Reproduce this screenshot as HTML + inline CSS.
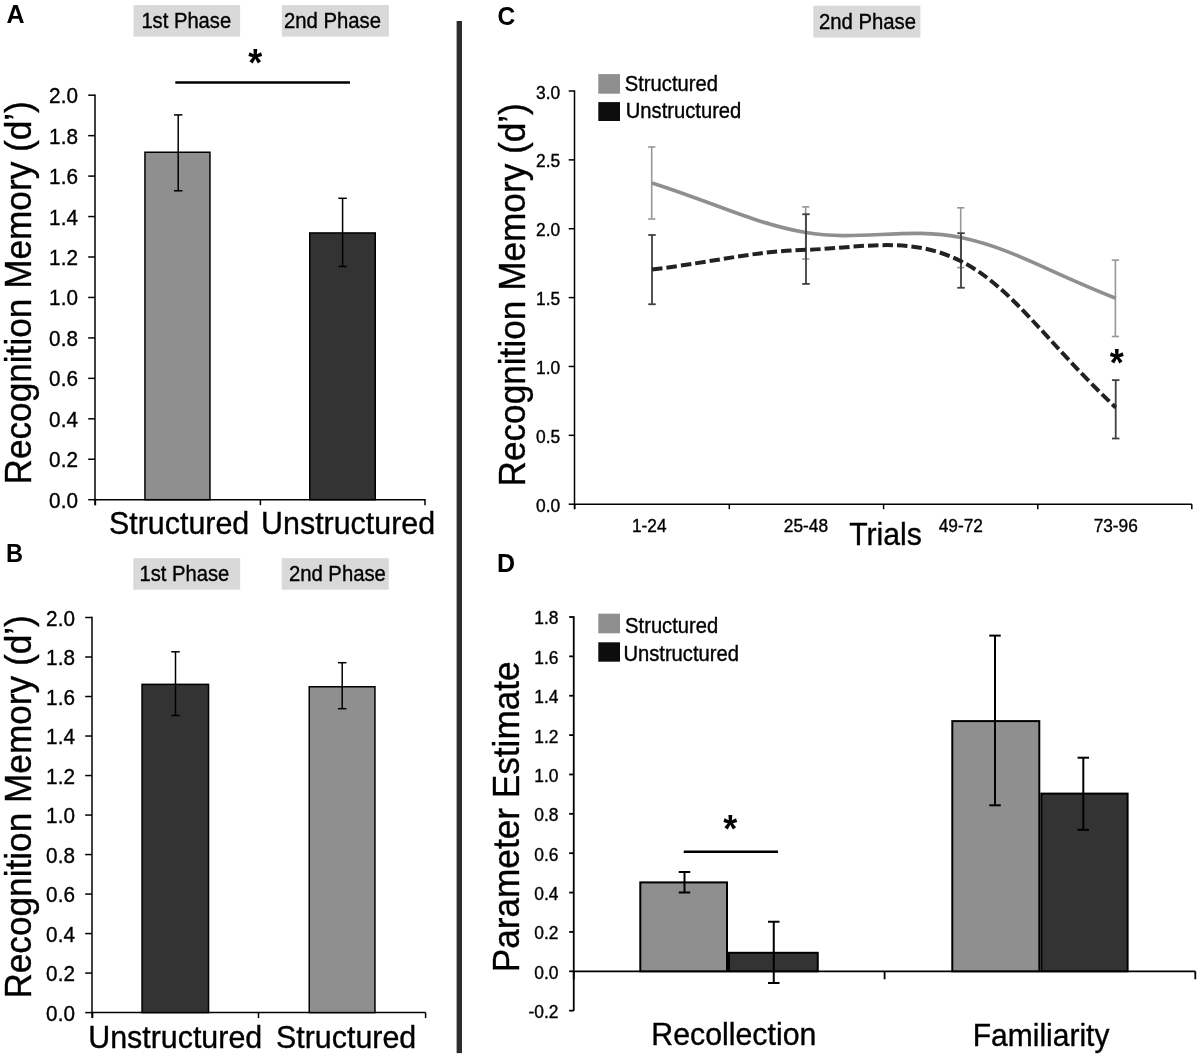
<!DOCTYPE html>
<html><head><meta charset="utf-8"><style>
html,body{margin:0;padding:0;background:#fff;}
svg{display:block;font-family:"Liberation Sans", sans-serif;will-change:transform;}
</style></head><body>
<svg width="1200" height="1059" viewBox="0 0 1200 1059">
<rect x="0" y="0" width="1200" height="1059" fill="#fff"/>
<text x="0" y="0" transform="translate(6.40,22.60) scale(1,1.06)" font-size="25" text-anchor="start" font-weight="bold" fill="#000" stroke="#000" stroke-width="0" >A</text>
<rect x="133.50" y="5.10" width="106.60" height="31.50" fill="#d9d9d9"/>
<text x="0" y="0" transform="translate(141.39,28.00) scale(1,1.06)" font-size="20.2" text-anchor="start" font-weight="normal" fill="#000" stroke="#000" stroke-width="0.35" >1st Phase</text>
<rect x="281.90" y="5.10" width="107.00" height="31.50" fill="#d9d9d9"/>
<text x="0" y="0" transform="translate(283.99,28.00) scale(1,1.06)" font-size="20.3" text-anchor="start" font-weight="normal" fill="#000" stroke="#000" stroke-width="0.35" >2nd Phase</text>
<text x="0" y="0" transform="translate(255.20,76.30) scale(1,1.06)" font-size="36" text-anchor="middle" font-weight="bold" fill="#000" stroke="#000" stroke-width="0" >*</text>
<line x1="175.30" y1="82.40" x2="350.00" y2="82.40" stroke="#000" stroke-width="2.5" />
<line x1="95.00" y1="94.50" x2="95.00" y2="505.20" stroke="#000" stroke-width="1.5" />
<line x1="95.00" y1="499.70" x2="425.60" y2="499.70" stroke="#000" stroke-width="1.5" />
<line x1="88.20" y1="499.70" x2="95.00" y2="499.70" stroke="#000" stroke-width="1.5" />
<text x="0" y="0" transform="translate(77.90,507.70) scale(1,1.06)" font-size="20.7" text-anchor="end" font-weight="normal" fill="#000" stroke="#000" stroke-width="0.35" >0.0</text>
<line x1="88.20" y1="459.25" x2="95.00" y2="459.25" stroke="#000" stroke-width="1.5" />
<text x="0" y="0" transform="translate(77.90,467.25) scale(1,1.06)" font-size="20.7" text-anchor="end" font-weight="normal" fill="#000" stroke="#000" stroke-width="0.35" >0.2</text>
<line x1="88.20" y1="418.80" x2="95.00" y2="418.80" stroke="#000" stroke-width="1.5" />
<text x="0" y="0" transform="translate(77.90,426.80) scale(1,1.06)" font-size="20.7" text-anchor="end" font-weight="normal" fill="#000" stroke="#000" stroke-width="0.35" >0.4</text>
<line x1="88.20" y1="378.35" x2="95.00" y2="378.35" stroke="#000" stroke-width="1.5" />
<text x="0" y="0" transform="translate(77.90,386.35) scale(1,1.06)" font-size="20.7" text-anchor="end" font-weight="normal" fill="#000" stroke="#000" stroke-width="0.35" >0.6</text>
<line x1="88.20" y1="337.90" x2="95.00" y2="337.90" stroke="#000" stroke-width="1.5" />
<text x="0" y="0" transform="translate(77.90,345.90) scale(1,1.06)" font-size="20.7" text-anchor="end" font-weight="normal" fill="#000" stroke="#000" stroke-width="0.35" >0.8</text>
<line x1="88.20" y1="297.45" x2="95.00" y2="297.45" stroke="#000" stroke-width="1.5" />
<text x="0" y="0" transform="translate(77.90,305.45) scale(1,1.06)" font-size="20.7" text-anchor="end" font-weight="normal" fill="#000" stroke="#000" stroke-width="0.35" >1.0</text>
<line x1="88.20" y1="257.00" x2="95.00" y2="257.00" stroke="#000" stroke-width="1.5" />
<text x="0" y="0" transform="translate(77.90,265.00) scale(1,1.06)" font-size="20.7" text-anchor="end" font-weight="normal" fill="#000" stroke="#000" stroke-width="0.35" >1.2</text>
<line x1="88.20" y1="216.55" x2="95.00" y2="216.55" stroke="#000" stroke-width="1.5" />
<text x="0" y="0" transform="translate(77.90,224.55) scale(1,1.06)" font-size="20.7" text-anchor="end" font-weight="normal" fill="#000" stroke="#000" stroke-width="0.35" >1.4</text>
<line x1="88.20" y1="176.10" x2="95.00" y2="176.10" stroke="#000" stroke-width="1.5" />
<text x="0" y="0" transform="translate(77.90,184.10) scale(1,1.06)" font-size="20.7" text-anchor="end" font-weight="normal" fill="#000" stroke="#000" stroke-width="0.35" >1.6</text>
<line x1="88.20" y1="135.65" x2="95.00" y2="135.65" stroke="#000" stroke-width="1.5" />
<text x="0" y="0" transform="translate(77.90,143.65) scale(1,1.06)" font-size="20.7" text-anchor="end" font-weight="normal" fill="#000" stroke="#000" stroke-width="0.35" >1.8</text>
<line x1="88.20" y1="95.20" x2="95.00" y2="95.20" stroke="#000" stroke-width="1.5" />
<text x="0" y="0" transform="translate(77.90,103.20) scale(1,1.06)" font-size="20.7" text-anchor="end" font-weight="normal" fill="#000" stroke="#000" stroke-width="0.35" >2.0</text>
<line x1="95.40" y1="499.70" x2="95.40" y2="505.20" stroke="#000" stroke-width="1.5" />
<line x1="260.40" y1="499.70" x2="260.40" y2="505.20" stroke="#000" stroke-width="1.5" />
<line x1="425.00" y1="499.70" x2="425.00" y2="505.20" stroke="#000" stroke-width="1.5" />
<rect x="144.95" y="152.25" width="65.00" height="347.45" fill="#8f8f8f" stroke="#000" stroke-width="1.5"/>
<rect x="309.75" y="232.95" width="65.50" height="266.75" fill="#333333" stroke="#000" stroke-width="1.5"/>
<line x1="178.20" y1="114.90" x2="178.20" y2="190.80" stroke="#000" stroke-width="1.5" />
<line x1="173.95" y1="114.90" x2="182.45" y2="114.90" stroke="#000" stroke-width="1.5" />
<line x1="173.95" y1="190.80" x2="182.45" y2="190.80" stroke="#000" stroke-width="1.5" />
<line x1="342.60" y1="198.30" x2="342.60" y2="266.50" stroke="#000" stroke-width="1.5" />
<line x1="338.35" y1="198.30" x2="346.85" y2="198.30" stroke="#000" stroke-width="1.5" />
<line x1="338.35" y1="266.50" x2="346.85" y2="266.50" stroke="#000" stroke-width="1.5" />
<text x="0" y="0" transform="translate(109.03,534.30) scale(1,1.06)" font-size="30.4" text-anchor="start" font-weight="normal" fill="#000" stroke="#000" stroke-width="0.35" >Structured</text>
<text x="0" y="0" transform="translate(261.12,534.30) scale(1,1.06)" font-size="30.4" text-anchor="start" font-weight="normal" fill="#000" stroke="#000" stroke-width="0.35" >Unstructured</text>
<text x="0" y="0" font-size="35.2" transform="translate(30.60,484.52) rotate(-90) scale(1,1.06)" stroke="#000" stroke-width="0.35">Recognition Memory (d’)</text>
<text x="0" y="0" transform="translate(5.97,561.60) scale(1,1.06)" font-size="23.5" text-anchor="start" font-weight="bold" fill="#000" stroke="#000" stroke-width="0" >B</text>
<rect x="133.30" y="558.20" width="106.90" height="31.50" fill="#d9d9d9"/>
<text x="0" y="0" transform="translate(139.49,580.80) scale(1,1.06)" font-size="20.2" text-anchor="start" font-weight="normal" fill="#000" stroke="#000" stroke-width="0.35" >1st Phase</text>
<rect x="281.70" y="558.20" width="107.10" height="31.50" fill="#d9d9d9"/>
<text x="0" y="0" transform="translate(288.88,580.80) scale(1,1.06)" font-size="20.3" text-anchor="start" font-weight="normal" fill="#000" stroke="#000" stroke-width="0.35" >2nd Phase</text>
<line x1="92.00" y1="616.80" x2="92.00" y2="1018.10" stroke="#000" stroke-width="1.5" />
<line x1="92.00" y1="1012.60" x2="425.60" y2="1012.60" stroke="#000" stroke-width="1.5" />
<line x1="85.20" y1="1012.60" x2="92.00" y2="1012.60" stroke="#000" stroke-width="1.5" />
<text x="0" y="0" transform="translate(74.90,1020.60) scale(1,1.06)" font-size="20.7" text-anchor="end" font-weight="normal" fill="#000" stroke="#000" stroke-width="0.35" >0.0</text>
<line x1="85.20" y1="973.09" x2="92.00" y2="973.09" stroke="#000" stroke-width="1.5" />
<text x="0" y="0" transform="translate(74.90,981.09) scale(1,1.06)" font-size="20.7" text-anchor="end" font-weight="normal" fill="#000" stroke="#000" stroke-width="0.35" >0.2</text>
<line x1="85.20" y1="933.58" x2="92.00" y2="933.58" stroke="#000" stroke-width="1.5" />
<text x="0" y="0" transform="translate(74.90,941.58) scale(1,1.06)" font-size="20.7" text-anchor="end" font-weight="normal" fill="#000" stroke="#000" stroke-width="0.35" >0.4</text>
<line x1="85.20" y1="894.07" x2="92.00" y2="894.07" stroke="#000" stroke-width="1.5" />
<text x="0" y="0" transform="translate(74.90,902.07) scale(1,1.06)" font-size="20.7" text-anchor="end" font-weight="normal" fill="#000" stroke="#000" stroke-width="0.35" >0.6</text>
<line x1="85.20" y1="854.56" x2="92.00" y2="854.56" stroke="#000" stroke-width="1.5" />
<text x="0" y="0" transform="translate(74.90,862.56) scale(1,1.06)" font-size="20.7" text-anchor="end" font-weight="normal" fill="#000" stroke="#000" stroke-width="0.35" >0.8</text>
<line x1="85.20" y1="815.05" x2="92.00" y2="815.05" stroke="#000" stroke-width="1.5" />
<text x="0" y="0" transform="translate(74.90,823.05) scale(1,1.06)" font-size="20.7" text-anchor="end" font-weight="normal" fill="#000" stroke="#000" stroke-width="0.35" >1.0</text>
<line x1="85.20" y1="775.54" x2="92.00" y2="775.54" stroke="#000" stroke-width="1.5" />
<text x="0" y="0" transform="translate(74.90,783.54) scale(1,1.06)" font-size="20.7" text-anchor="end" font-weight="normal" fill="#000" stroke="#000" stroke-width="0.35" >1.2</text>
<line x1="85.20" y1="736.03" x2="92.00" y2="736.03" stroke="#000" stroke-width="1.5" />
<text x="0" y="0" transform="translate(74.90,744.03) scale(1,1.06)" font-size="20.7" text-anchor="end" font-weight="normal" fill="#000" stroke="#000" stroke-width="0.35" >1.4</text>
<line x1="85.20" y1="696.52" x2="92.00" y2="696.52" stroke="#000" stroke-width="1.5" />
<text x="0" y="0" transform="translate(74.90,704.52) scale(1,1.06)" font-size="20.7" text-anchor="end" font-weight="normal" fill="#000" stroke="#000" stroke-width="0.35" >1.6</text>
<line x1="85.20" y1="657.01" x2="92.00" y2="657.01" stroke="#000" stroke-width="1.5" />
<text x="0" y="0" transform="translate(74.90,665.01) scale(1,1.06)" font-size="20.7" text-anchor="end" font-weight="normal" fill="#000" stroke="#000" stroke-width="0.35" >1.8</text>
<line x1="85.20" y1="617.50" x2="92.00" y2="617.50" stroke="#000" stroke-width="1.5" />
<text x="0" y="0" transform="translate(74.90,625.50) scale(1,1.06)" font-size="20.7" text-anchor="end" font-weight="normal" fill="#000" stroke="#000" stroke-width="0.35" >2.0</text>
<line x1="92.60" y1="1012.60" x2="92.60" y2="1018.10" stroke="#000" stroke-width="1.5" />
<line x1="258.50" y1="1012.60" x2="258.50" y2="1018.10" stroke="#000" stroke-width="1.5" />
<line x1="425.60" y1="1012.60" x2="425.60" y2="1018.10" stroke="#000" stroke-width="1.5" />
<rect x="142.05" y="684.35" width="66.50" height="328.25" fill="#333333" stroke="#000" stroke-width="1.5"/>
<rect x="309.25" y="686.75" width="65.70" height="325.85" fill="#8f8f8f" stroke="#000" stroke-width="1.5"/>
<line x1="175.50" y1="651.80" x2="175.50" y2="715.50" stroke="#000" stroke-width="1.5" />
<line x1="171.25" y1="651.80" x2="179.75" y2="651.80" stroke="#000" stroke-width="1.5" />
<line x1="171.25" y1="715.50" x2="179.75" y2="715.50" stroke="#000" stroke-width="1.5" />
<line x1="342.20" y1="662.70" x2="342.20" y2="708.70" stroke="#000" stroke-width="1.5" />
<line x1="337.95" y1="662.70" x2="346.45" y2="662.70" stroke="#000" stroke-width="1.5" />
<line x1="337.95" y1="708.70" x2="346.45" y2="708.70" stroke="#000" stroke-width="1.5" />
<text x="0" y="0" transform="translate(88.22,1047.80) scale(1,1.06)" font-size="30.4" text-anchor="start" font-weight="normal" fill="#000" stroke="#000" stroke-width="0.35" >Unstructured</text>
<text x="0" y="0" transform="translate(276.03,1047.80) scale(1,1.06)" font-size="30.4" text-anchor="start" font-weight="normal" fill="#000" stroke="#000" stroke-width="0.35" >Structured</text>
<text x="0" y="0" font-size="35.2" transform="translate(30.60,998.62) rotate(-90) scale(1,1.06)" stroke="#000" stroke-width="0.35">Recognition Memory (d’)</text>
<rect x="456.60" y="21.00" width="5.40" height="1032.10" fill="#2d2d2d"/>
<text x="0" y="0" transform="translate(497.52,24.70) scale(1,1.06)" font-size="24.5" text-anchor="start" font-weight="bold" fill="#000" stroke="#000" stroke-width="0" >C</text>
<rect x="813.30" y="5.70" width="107.10" height="31.90" fill="#d9d9d9"/>
<text x="0" y="0" transform="translate(818.99,28.60) scale(1,1.06)" font-size="20.3" text-anchor="start" font-weight="normal" fill="#000" stroke="#000" stroke-width="0.35" >2nd Phase</text>
<line x1="574.50" y1="90.30" x2="574.50" y2="509.20" stroke="#000" stroke-width="1.5" />
<line x1="574.50" y1="504.20" x2="1191.80" y2="504.20" stroke="#000" stroke-width="1.5" />
<line x1="568.70" y1="504.20" x2="574.50" y2="504.20" stroke="#000" stroke-width="1.5" />
<text x="0" y="0" transform="translate(560.20,511.80) scale(1,1.06)" font-size="17.4" text-anchor="end" font-weight="normal" fill="#000" stroke="#000" stroke-width="0.35" >0.0</text>
<line x1="568.70" y1="435.33" x2="574.50" y2="435.33" stroke="#000" stroke-width="1.5" />
<text x="0" y="0" transform="translate(560.20,442.93) scale(1,1.06)" font-size="17.4" text-anchor="end" font-weight="normal" fill="#000" stroke="#000" stroke-width="0.35" >0.5</text>
<line x1="568.70" y1="366.47" x2="574.50" y2="366.47" stroke="#000" stroke-width="1.5" />
<text x="0" y="0" transform="translate(560.20,374.07) scale(1,1.06)" font-size="17.4" text-anchor="end" font-weight="normal" fill="#000" stroke="#000" stroke-width="0.35" >1.0</text>
<line x1="568.70" y1="297.60" x2="574.50" y2="297.60" stroke="#000" stroke-width="1.5" />
<text x="0" y="0" transform="translate(560.20,305.20) scale(1,1.06)" font-size="17.4" text-anchor="end" font-weight="normal" fill="#000" stroke="#000" stroke-width="0.35" >1.5</text>
<line x1="568.70" y1="228.73" x2="574.50" y2="228.73" stroke="#000" stroke-width="1.5" />
<text x="0" y="0" transform="translate(560.20,236.33) scale(1,1.06)" font-size="17.4" text-anchor="end" font-weight="normal" fill="#000" stroke="#000" stroke-width="0.35" >2.0</text>
<line x1="568.70" y1="159.87" x2="574.50" y2="159.87" stroke="#000" stroke-width="1.5" />
<text x="0" y="0" transform="translate(560.20,167.47) scale(1,1.06)" font-size="17.4" text-anchor="end" font-weight="normal" fill="#000" stroke="#000" stroke-width="0.35" >2.5</text>
<line x1="568.70" y1="91.00" x2="574.50" y2="91.00" stroke="#000" stroke-width="1.5" />
<text x="0" y="0" transform="translate(560.20,98.60) scale(1,1.06)" font-size="17.4" text-anchor="end" font-weight="normal" fill="#000" stroke="#000" stroke-width="0.35" >3.0</text>
<line x1="574.70" y1="504.20" x2="574.70" y2="509.20" stroke="#000" stroke-width="1.5" />
<line x1="729.30" y1="504.20" x2="729.30" y2="509.20" stroke="#000" stroke-width="1.5" />
<line x1="883.60" y1="504.20" x2="883.60" y2="509.20" stroke="#000" stroke-width="1.5" />
<line x1="1037.80" y1="504.20" x2="1037.80" y2="509.20" stroke="#000" stroke-width="1.5" />
<line x1="1191.80" y1="504.20" x2="1191.80" y2="509.20" stroke="#000" stroke-width="1.5" />
<text x="0" y="0" transform="translate(632.00,532.40) scale(1,1.06)" font-size="17.3" text-anchor="start" font-weight="normal" fill="#000" stroke="#000" stroke-width="0.35" >1-24</text>
<text x="0" y="0" transform="translate(783.84,532.40) scale(1,1.06)" font-size="17.3" text-anchor="start" font-weight="normal" fill="#000" stroke="#000" stroke-width="0.35" >25-48</text>
<text x="0" y="0" transform="translate(938.67,532.40) scale(1,1.06)" font-size="17.3" text-anchor="start" font-weight="normal" fill="#000" stroke="#000" stroke-width="0.35" >49-72</text>
<text x="0" y="0" transform="translate(1093.63,532.40) scale(1,1.06)" font-size="17.3" text-anchor="start" font-weight="normal" fill="#000" stroke="#000" stroke-width="0.35" >73-96</text>
<text x="0" y="0" transform="translate(849.25,544.60) scale(1,1.06)" font-size="30.2" text-anchor="start" font-weight="normal" fill="#000" stroke="#000" stroke-width="0.35" >Trials</text>
<text x="0" y="0" font-size="35.2" transform="translate(524.90,486.52) rotate(-90) scale(1,1.06)" stroke="#000" stroke-width="0.35">Recognition Memory (d’)</text>
<rect x="598.30" y="74.10" width="21.70" height="19.60" fill="#8f8f8f"/>
<rect x="598.30" y="102.10" width="21.70" height="18.90" fill="#0d0d0d"/>
<text x="0" y="0" transform="translate(624.79,90.80) scale(1,1.06)" font-size="20.2" text-anchor="start" font-weight="normal" fill="#000" stroke="#000" stroke-width="0.35" >Structured</text>
<text x="0" y="0" transform="translate(625.78,117.50) scale(1,1.06)" font-size="20.2" text-anchor="start" font-weight="normal" fill="#000" stroke="#000" stroke-width="0.35" >Unstructured</text>
<line x1="651.70" y1="147.00" x2="651.70" y2="219.00" stroke="#979797" stroke-width="1.6" />
<line x1="648.10" y1="147.00" x2="655.30" y2="147.00" stroke="#979797" stroke-width="1.6" />
<line x1="648.10" y1="219.00" x2="655.30" y2="219.00" stroke="#979797" stroke-width="1.6" />
<line x1="805.70" y1="206.90" x2="805.70" y2="259.00" stroke="#979797" stroke-width="1.6" />
<line x1="802.10" y1="206.90" x2="809.30" y2="206.90" stroke="#979797" stroke-width="1.6" />
<line x1="802.10" y1="259.00" x2="809.30" y2="259.00" stroke="#979797" stroke-width="1.6" />
<line x1="960.70" y1="207.80" x2="960.70" y2="267.60" stroke="#979797" stroke-width="1.6" />
<line x1="957.10" y1="207.80" x2="964.30" y2="207.80" stroke="#979797" stroke-width="1.6" />
<line x1="957.10" y1="267.60" x2="964.30" y2="267.60" stroke="#979797" stroke-width="1.6" />
<line x1="1115.40" y1="260.10" x2="1115.40" y2="336.50" stroke="#979797" stroke-width="1.6" />
<line x1="1111.80" y1="260.10" x2="1119.00" y2="260.10" stroke="#979797" stroke-width="1.6" />
<line x1="1111.80" y1="336.50" x2="1119.00" y2="336.50" stroke="#979797" stroke-width="1.6" />
<path d="M652.00,183.00 C721.30,205.32 754.50,223.52 806.00,232.60 C857.50,241.68 909.38,226.57 961.00,237.50 C1012.62,248.43 1046.09,270.88 1115.70,298.20" fill="none" stroke="#8f8f8f" stroke-width="3.6"/>
<line x1="652.00" y1="235.00" x2="652.00" y2="304.25" stroke="#404040" stroke-width="1.8" />
<line x1="648.25" y1="235.00" x2="655.75" y2="235.00" stroke="#404040" stroke-width="1.8" />
<line x1="648.25" y1="304.25" x2="655.75" y2="304.25" stroke="#404040" stroke-width="1.8" />
<line x1="806.00" y1="214.25" x2="806.00" y2="283.90" stroke="#404040" stroke-width="1.8" />
<line x1="802.25" y1="214.25" x2="809.75" y2="214.25" stroke="#404040" stroke-width="1.8" />
<line x1="802.25" y1="283.90" x2="809.75" y2="283.90" stroke="#404040" stroke-width="1.8" />
<line x1="961.00" y1="233.20" x2="961.00" y2="287.75" stroke="#404040" stroke-width="1.8" />
<line x1="957.25" y1="233.20" x2="964.75" y2="233.20" stroke="#404040" stroke-width="1.8" />
<line x1="957.25" y1="287.75" x2="964.75" y2="287.75" stroke="#404040" stroke-width="1.8" />
<line x1="1115.70" y1="380.10" x2="1115.70" y2="438.50" stroke="#404040" stroke-width="1.8" />
<line x1="1111.95" y1="380.10" x2="1119.45" y2="380.10" stroke="#404040" stroke-width="1.8" />
<line x1="1111.95" y1="438.50" x2="1119.45" y2="438.50" stroke="#404040" stroke-width="1.8" />
<path d="M652.00,269.60 C721.30,260.69 754.50,251.20 806.00,249.80 C857.50,248.40 909.38,234.92 961.00,261.20 C1012.62,287.48 1046.09,341.66 1115.70,407.50" fill="none" stroke="#222" stroke-width="4" stroke-dasharray="10.5 4"/>
<text x="0" y="0" transform="translate(1116.80,375.60) scale(1,1.06)" font-size="36" text-anchor="middle" font-weight="bold" fill="#000" stroke="#000" stroke-width="0" >*</text>
<text x="0" y="0" transform="translate(497.12,572.20) scale(1,1.06)" font-size="25" text-anchor="start" font-weight="bold" fill="#000" stroke="#000" stroke-width="0" >D</text>
<line x1="573.75" y1="616.20" x2="573.75" y2="1010.67" stroke="#000" stroke-width="1.8" />
<line x1="573.75" y1="971.30" x2="1195.30" y2="971.30" stroke="#000" stroke-width="1.8" />
<line x1="569.15" y1="1010.67" x2="573.75" y2="1010.67" stroke="#000" stroke-width="1.8" />
<text x="0" y="0" transform="translate(558.50,1018.07) scale(1,1.06)" font-size="17.4" text-anchor="end" font-weight="normal" fill="#000" stroke="#000" stroke-width="0.35" >-0.2</text>
<line x1="569.15" y1="971.30" x2="573.75" y2="971.30" stroke="#000" stroke-width="1.8" />
<text x="0" y="0" transform="translate(558.50,978.70) scale(1,1.06)" font-size="17.4" text-anchor="end" font-weight="normal" fill="#000" stroke="#000" stroke-width="0.35" >0.0</text>
<line x1="569.15" y1="931.93" x2="573.75" y2="931.93" stroke="#000" stroke-width="1.8" />
<text x="0" y="0" transform="translate(558.50,939.33) scale(1,1.06)" font-size="17.4" text-anchor="end" font-weight="normal" fill="#000" stroke="#000" stroke-width="0.35" >0.2</text>
<line x1="569.15" y1="892.57" x2="573.75" y2="892.57" stroke="#000" stroke-width="1.8" />
<text x="0" y="0" transform="translate(558.50,899.97) scale(1,1.06)" font-size="17.4" text-anchor="end" font-weight="normal" fill="#000" stroke="#000" stroke-width="0.35" >0.4</text>
<line x1="569.15" y1="853.20" x2="573.75" y2="853.20" stroke="#000" stroke-width="1.8" />
<text x="0" y="0" transform="translate(558.50,860.60) scale(1,1.06)" font-size="17.4" text-anchor="end" font-weight="normal" fill="#000" stroke="#000" stroke-width="0.35" >0.6</text>
<line x1="569.15" y1="813.83" x2="573.75" y2="813.83" stroke="#000" stroke-width="1.8" />
<text x="0" y="0" transform="translate(558.50,821.23) scale(1,1.06)" font-size="17.4" text-anchor="end" font-weight="normal" fill="#000" stroke="#000" stroke-width="0.35" >0.8</text>
<line x1="569.15" y1="774.47" x2="573.75" y2="774.47" stroke="#000" stroke-width="1.8" />
<text x="0" y="0" transform="translate(558.50,781.87) scale(1,1.06)" font-size="17.4" text-anchor="end" font-weight="normal" fill="#000" stroke="#000" stroke-width="0.35" >1.0</text>
<line x1="569.15" y1="735.10" x2="573.75" y2="735.10" stroke="#000" stroke-width="1.8" />
<text x="0" y="0" transform="translate(558.50,742.50) scale(1,1.06)" font-size="17.4" text-anchor="end" font-weight="normal" fill="#000" stroke="#000" stroke-width="0.35" >1.2</text>
<line x1="569.15" y1="695.73" x2="573.75" y2="695.73" stroke="#000" stroke-width="1.8" />
<text x="0" y="0" transform="translate(558.50,703.13) scale(1,1.06)" font-size="17.4" text-anchor="end" font-weight="normal" fill="#000" stroke="#000" stroke-width="0.35" >1.4</text>
<line x1="569.15" y1="656.37" x2="573.75" y2="656.37" stroke="#000" stroke-width="1.8" />
<text x="0" y="0" transform="translate(558.50,663.77) scale(1,1.06)" font-size="17.4" text-anchor="end" font-weight="normal" fill="#000" stroke="#000" stroke-width="0.35" >1.6</text>
<line x1="569.15" y1="617.00" x2="573.75" y2="617.00" stroke="#000" stroke-width="1.8" />
<text x="0" y="0" transform="translate(558.50,624.40) scale(1,1.06)" font-size="17.4" text-anchor="end" font-weight="normal" fill="#000" stroke="#000" stroke-width="0.35" >1.8</text>
<line x1="573.75" y1="971.30" x2="573.75" y2="979.30" stroke="#000" stroke-width="1.8" />
<line x1="884.60" y1="971.30" x2="884.60" y2="979.30" stroke="#000" stroke-width="1.8" />
<line x1="1195.30" y1="971.30" x2="1195.30" y2="979.30" stroke="#000" stroke-width="1.8" />
<rect x="640.30" y="882.40" width="86.70" height="88.90" fill="#8f8f8f" stroke="#000" stroke-width="2"/>
<rect x="729.00" y="952.80" width="88.75" height="18.50" fill="#333333" stroke="#000" stroke-width="2"/>
<rect x="952.30" y="721.10" width="87.00" height="250.20" fill="#8f8f8f" stroke="#000" stroke-width="2"/>
<rect x="1041.30" y="793.60" width="86.30" height="177.70" fill="#333333" stroke="#000" stroke-width="2"/>
<line x1="684.50" y1="872.00" x2="684.50" y2="892.50" stroke="#000" stroke-width="2" />
<line x1="678.75" y1="872.00" x2="690.25" y2="872.00" stroke="#000" stroke-width="2" />
<line x1="678.75" y1="892.50" x2="690.25" y2="892.50" stroke="#000" stroke-width="2" />
<line x1="773.75" y1="921.75" x2="773.75" y2="983.00" stroke="#000" stroke-width="2" />
<line x1="768.00" y1="921.75" x2="779.50" y2="921.75" stroke="#000" stroke-width="2" />
<line x1="768.00" y1="983.00" x2="779.50" y2="983.00" stroke="#000" stroke-width="2" />
<line x1="995.00" y1="635.60" x2="995.00" y2="805.30" stroke="#000" stroke-width="2" />
<line x1="989.25" y1="635.60" x2="1000.75" y2="635.60" stroke="#000" stroke-width="2" />
<line x1="989.25" y1="805.30" x2="1000.75" y2="805.30" stroke="#000" stroke-width="2" />
<line x1="1083.30" y1="757.70" x2="1083.30" y2="829.80" stroke="#000" stroke-width="2" />
<line x1="1077.55" y1="757.70" x2="1089.05" y2="757.70" stroke="#000" stroke-width="2" />
<line x1="1077.55" y1="829.80" x2="1089.05" y2="829.80" stroke="#000" stroke-width="2" />
<line x1="683.75" y1="851.75" x2="778.00" y2="851.75" stroke="#000" stroke-width="2.5" />
<text x="0" y="0" transform="translate(730.30,842.10) scale(1,1.06)" font-size="36" text-anchor="middle" font-weight="bold" fill="#000" stroke="#000" stroke-width="0" >*</text>
<text x="0" y="0" transform="translate(651.33,1044.90) scale(1,1.06)" font-size="30.3" text-anchor="start" font-weight="normal" fill="#000" stroke="#000" stroke-width="0.35" >Recollection</text>
<text x="0" y="0" transform="translate(972.80,1045.60) scale(1,1.06)" font-size="30.0" text-anchor="start" font-weight="normal" fill="#000" stroke="#000" stroke-width="0.35" >Familiarity</text>
<text x="0" y="0" font-size="35.2" transform="translate(519.30,972.32) rotate(-90) scale(1,1.06)" stroke="#000" stroke-width="0.35">Parameter Estimate</text>
<rect x="598.30" y="613.70" width="21.70" height="19.60" fill="#8f8f8f"/>
<rect x="598.30" y="642.30" width="21.70" height="19.40" fill="#0d0d0d"/>
<text x="0" y="0" transform="translate(625.09,632.50) scale(1,1.06)" font-size="20.2" text-anchor="start" font-weight="normal" fill="#000" stroke="#000" stroke-width="0.35" >Structured</text>
<text x="0" y="0" transform="translate(623.38,660.50) scale(1,1.06)" font-size="20.2" text-anchor="start" font-weight="normal" fill="#000" stroke="#000" stroke-width="0.35" >Unstructured</text>
</svg></body></html>
